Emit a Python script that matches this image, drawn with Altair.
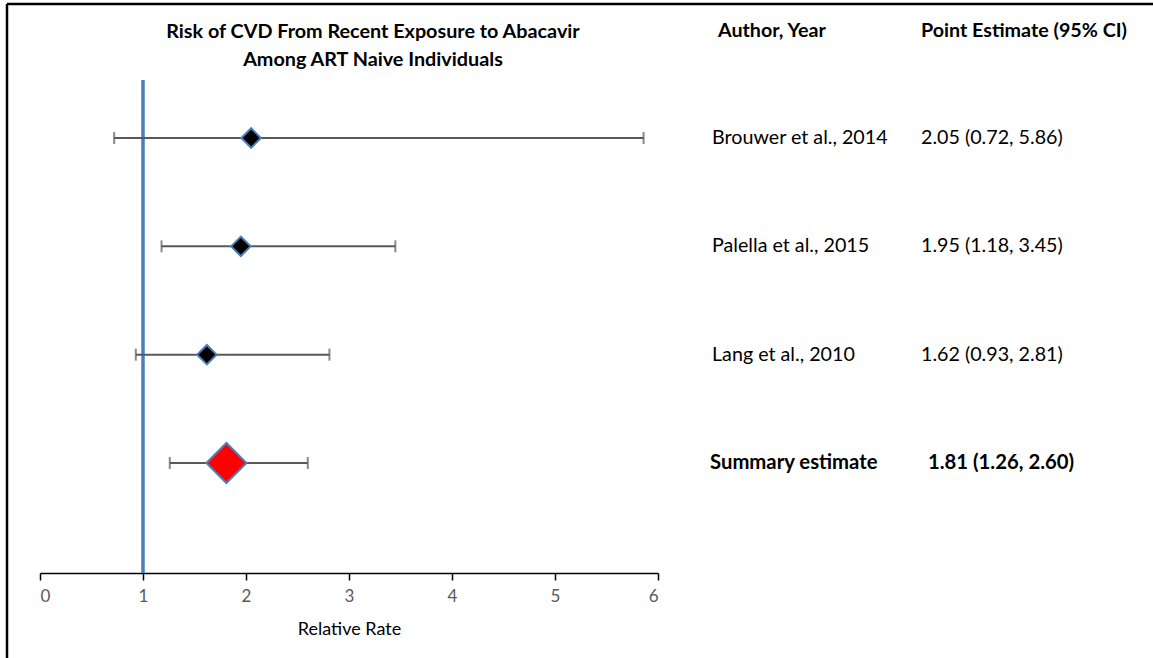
import altair as alt
import pandas as pd

# Study-level estimates (relative rate with 95% CI)
studies = ["Brouwer et al., 2014", "Palella et al., 2015", "Lang et al., 2010"]
estimates = [2.05, 1.95, 1.62]
lower = [0.72, 1.18, 0.93]
upper = [5.86, 3.45, 2.81]

# Pooled estimate
summary_name = "Summary estimate"
summary_est = [1.81]
summary_lo = [1.26]
summary_hi = [2.60]

x_ticks = [0, 1, 2, 3, 4, 5, 6]
null_value = 1

title_lines = ["Risk of CVD From Recent Exposure to Abacavir",
               "Among ART Naive Individuals"]
col_headers = ["Author, Year", "Point Estimate (95% CI)"]

FONT = "Lato"
BLUE = "#4A7EBB"
GREY = "#595959"

# Layout (pixels)
PAD_L, PAD_T, PAD_B = 40, 80, 85
W, H = 1113, 493
AXIS_W = 618


def ci_label(e, l, h):
    return f"{e:.2f} ({l:.2f}, {h:.2f})"


rows = studies + [summary_name]
df = pd.DataFrame({"study": studies, "est": estimates, "lo": lower, "hi": upper})
df["label"] = [ci_label(e, l, h) for e, l, h in zip(estimates, lower, upper)]
sdf = pd.DataFrame({"study": [summary_name], "est": summary_est,
                    "lo": summary_lo, "hi": summary_hi})
sdf["label"] = [ci_label(e, l, h) for e, l, h in zip(summary_est, summary_lo, summary_hi)]
alldf = pd.concat([df, sdf], ignore_index=True)

xscale = alt.Scale(domain=[x_ticks[0], x_ticks[-1]], range=[0, AXIS_W], nice=False, zero=False)
yscale = alt.Scale(type="point", domain=rows, range=[58, 383], padding=0)

X = lambda f: alt.X(f, type="quantitative", scale=xscale,
                    axis=alt.Axis(values=x_ticks, title="Relative Rate", format="d"))
Y = alt.Y("study:N", scale=yscale, axis=None)

null_line = alt.Chart(pd.DataFrame({"v": [null_value]})).mark_rule(
    color=BLUE, strokeWidth=3.5
).encode(x=X("v"), y=alt.value(0), y2=alt.value(H))

ci_lines = alt.Chart(alldf).mark_rule(color=GREY, strokeWidth=2).encode(
    x=X("lo"), x2="hi:Q", y=Y)
cap_lo = alt.Chart(alldf).mark_tick(orient="vertical", size=12, thickness=2, color=GREY).encode(
    x=X("lo"), y=Y)
cap_hi = alt.Chart(alldf).mark_tick(orient="vertical", size=12, thickness=2, color=GREY).encode(
    x=X("hi"), y=Y)

points = alt.Chart(df).mark_point(
    shape="diamond", filled=True, fill="black", stroke=BLUE, strokeWidth=2,
    size=380, opacity=1, fillOpacity=1, strokeOpacity=1
).encode(x=X("est"), y=Y)

summary_pt = alt.Chart(sdf).mark_point(
    shape="diamond", filled=True, fill="#FF0000", stroke=BLUE, strokeWidth=2,
    size=1600, opacity=1, fillOpacity=1, strokeOpacity=1
).encode(x=X("est"), y=Y)

text_style = dict(font=FONT, fontSize=19.7, color="black", align="left", baseline="middle")
bold_style = dict(text_style, fontSize=20.3, fontWeight="bold")

authors = alt.Chart(df).mark_text(**text_style).encode(
    x=alt.value(672), y=Y, text="study:N")
cis = alt.Chart(df).mark_text(**text_style).encode(
    x=alt.value(881), y=Y, text="label:N")
s_author = alt.Chart(sdf).mark_text(**bold_style).encode(
    x=alt.value(670), y=Y, text="study:N")
s_ci = alt.Chart(sdf).mark_text(**bold_style).encode(
    x=alt.value(888), y=Y, text="label:N")

hdr = pd.DataFrame({"t": col_headers})
head_author = alt.Chart(hdr).transform_filter(alt.datum.t == col_headers[0]).mark_text(
    **dict(text_style, fontSize=19.7, fontWeight="bold")).encode(
    x=alt.value(678), y=alt.value(-49), text="t:N")
head_ci = alt.Chart(hdr).transform_filter(alt.datum.t == col_headers[1]).mark_text(
    **dict(text_style, fontSize=19.7, fontWeight="bold")).encode(
    x=alt.value(881), y=alt.value(-49), text="t:N")

ttl = pd.DataFrame({"t": title_lines})
title_style = dict(font=FONT, fontSize=19.8, fontWeight="bold", color="black",
                   align="center", baseline="middle")
title1 = alt.Chart(ttl).transform_filter(alt.datum.t == title_lines[0]).mark_text(
    **title_style).encode(x=alt.value(333), y=alt.value(-48), text="t:N")
title2 = alt.Chart(ttl).transform_filter(alt.datum.t == title_lines[1]).mark_text(
    **title_style).encode(x=alt.value(333), y=alt.value(-20), text="t:N")

# Outer frame (top and left edges)
one = pd.DataFrame({"a": [0]})
frame_top = alt.Chart(one).mark_rule(color="black", strokeWidth=2.5).encode(
    x=alt.value(-33), x2=alt.value(W), y=alt.value(-76))
frame_left = alt.Chart(one).mark_rule(color="black", strokeWidth=2.5).encode(
    x=alt.value(-33), y=alt.value(-76), y2=alt.value(H + PAD_B))

chart = alt.layer(
    frame_top, frame_left, null_line, ci_lines, cap_lo, cap_hi, points, summary_pt,
    authors, cis, s_author, s_ci, head_author, head_ci, title1, title2
).properties(
    width=W, height=H,
    autosize=alt.AutoSizeParams(type="none"),
    padding={"left": PAD_L, "top": PAD_T, "right": 0, "bottom": PAD_B},
    background="white",
).configure_view(stroke=None).configure_axis(
    grid=False, domainColor="black", domainWidth=1.5, tickColor="black",
    tickWidth=1.5, tickSize=7, labelColor=GREY, labelFont=FONT, labelFontSize=17,
    labelPadding=8, titleFont=FONT, titleFontSize=18, titleFontWeight="normal",
    titleColor="black", titlePadding=16,
)

chart.save("out.html", embed_options={"renderer": "svg", "actions": False})
